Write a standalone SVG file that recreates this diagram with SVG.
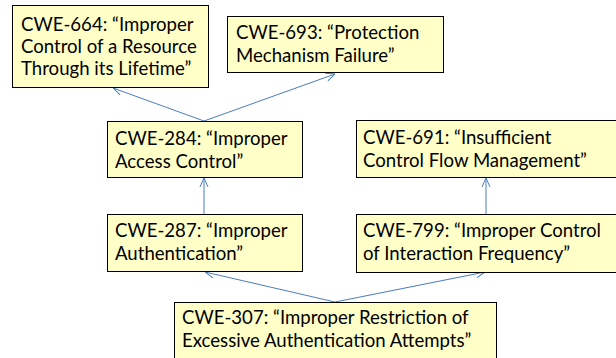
<svg xmlns="http://www.w3.org/2000/svg" width="616" height="358" viewBox="0 0 616 358">
<defs>
<marker id="ah" viewBox="0 0 10 10" refX="10" refY="5" markerWidth="10" markerHeight="10" markerUnits="userSpaceOnUse" orient="auto">
<path d="M1,1 L10,5 L1,9" fill="none" stroke="#4a7ebb" stroke-width="1"/>
</marker>
<style>
.box{fill:#ffffc8;stroke:#000;stroke-width:1}
.t{font-family:Lato,"Liberation Sans",sans-serif;font-size:18.6px;fill:#000}
.c{stroke:#4a7ebb;stroke-width:1;fill:none;marker-end:url(#ah)}
</style>
</defs>
<rect width="616" height="358" fill="#fff"/>
<g id="connectors">
<line class="c" x1="204" y1="121" x2="113" y2="88"/>
<line class="c" x1="204" y1="121" x2="335" y2="74"/>
<line class="c" x1="204" y1="214" x2="204" y2="178"/>
<line class="c" x1="486" y1="214" x2="486" y2="178"/>
<line class="c" x1="335" y1="302" x2="205" y2="272"/>
<line class="c" x1="335" y1="302" x2="485" y2="272"/>
</g>
<g id="cwe664">
<rect class="box" x="12.5" y="5.5" width="196" height="82"/>
<text class="t" x="21" y="30.5">CWE-664: “Improper</text>
<text class="t" x="21" y="53">Control of a Resource</text>
<text class="t" x="21" y="75">Through its Lifetime”</text>
</g>
<g id="cwe693">
<rect class="box" x="227.5" y="16.5" width="216" height="56"/>
<text class="t" x="236" y="39">CWE-693: “Protection</text>
<text class="t" x="236" y="62">Mechanism Failure”</text>
</g>
<g id="cwe284">
<rect class="box" x="107.5" y="121.5" width="195" height="56"/>
<text class="t" x="115" y="145">CWE-284: “Improper</text>
<text class="t" x="115" y="168">Access Control”</text>
</g>
<g id="cwe691">
<rect class="box" x="356.5" y="120.5" width="262" height="57"/>
<text class="t" x="363" y="144">CWE-691: “Insufficient</text>
<text class="t" x="363" y="167">Control Flow Management”</text>
</g>
<g id="cwe287">
<rect class="box" x="107.5" y="214.5" width="195" height="57"/>
<text class="t" x="115" y="237">CWE-287: “Improper</text>
<text class="t" x="115" y="260">Authentication”</text>
</g>
<g id="cwe799">
<rect class="box" x="356.5" y="214.5" width="262" height="58"/>
<text class="t" x="363" y="237">CWE-799: “Improper Control</text>
<text class="t" x="363" y="260">of Interaction Frequency”</text>
</g>
<g id="cwe307">
<rect class="box" x="174.5" y="302.5" width="322" height="60"/>
<text class="t" x="182" y="324">CWE-307: “Improper Restriction of</text>
<text class="t" x="182" y="347">Excessive Authentication Attempts”</text>
</g>
</svg>
